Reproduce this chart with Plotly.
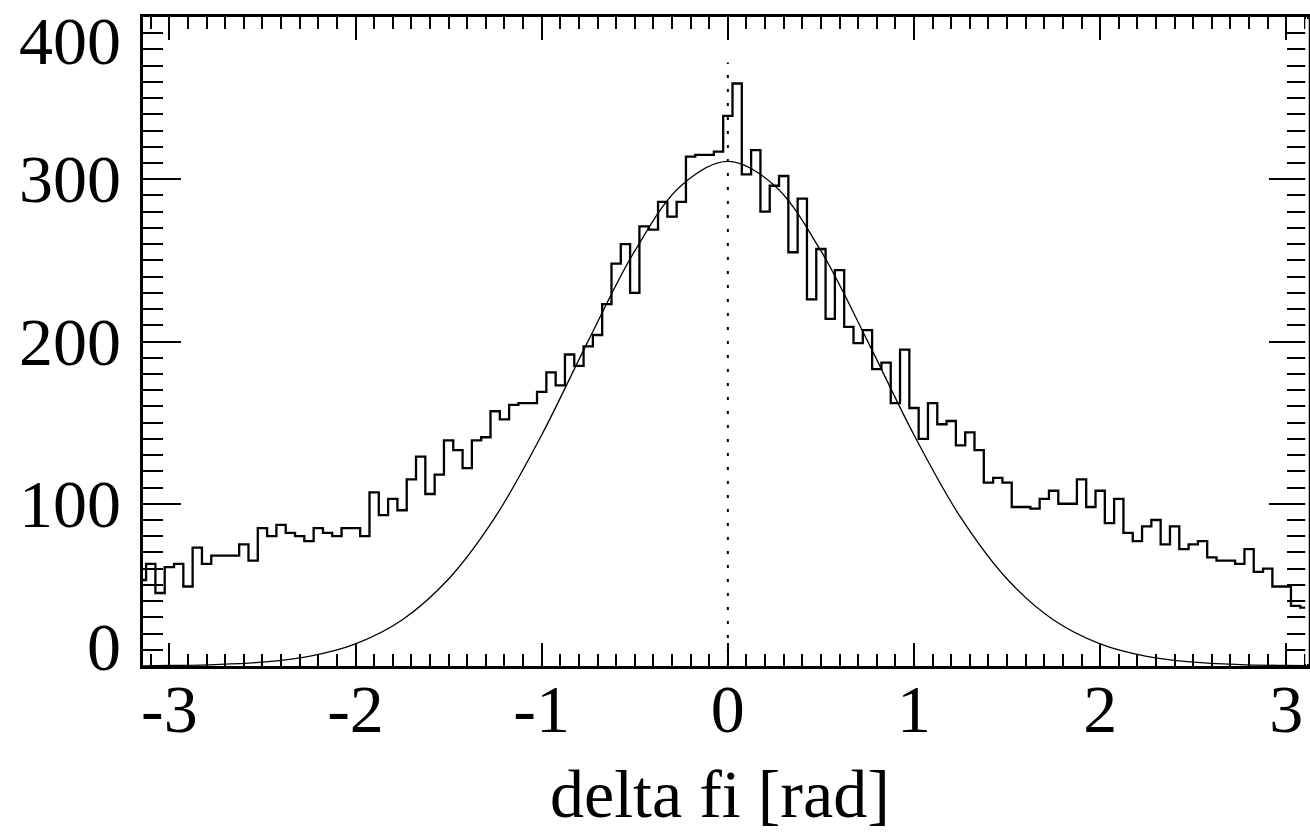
import plotly.graph_objects as go

# Histogram: bin centres every 0.05 rad from -3.15 to 3.15 (127 bins)
bin_start = -3.15
bin_width = 0.05
counts = [
    53, 63, 45, 61, 63, 49, 73, 63, 68, 68,
    68, 75, 65, 85, 80, 87, 82, 80, 77, 85,
    82, 80, 85, 85, 80, 107, 93, 103, 96, 115,
    129, 106, 118, 139, 133, 122, 139, 141, 157, 152,
    161, 162, 162, 169, 181, 173, 192, 185, 197, 204,
    223, 248, 260, 230, 271, 269, 286, 277, 286, 314,
    315, 315, 317, 339, 359, 303, 318, 280, 296, 302,
    255, 288, 226, 257, 214, 244, 209, 199, 207, 183,
    187, 162, 195, 159, 140, 162, 149, 151, 136, 144,
    133, 113, 116, 113, 98, 98, 97, 103, 108, 100,
    100, 115, 98, 108, 88, 103, 82, 77, 86, 90,
    75, 86, 72, 75, 77, 67, 65, 65, 63, 72,
    58, 60, 49, 49, 37, 36, 38,
]
bin_centers = [round(bin_start + i * bin_width, 4) for i in range(len(counts))]

# Fitted curve, values
fit_x = [-3.15, -3.0, -2.75, -2.5, -2.25, -2.0, -1.75, -1.5, -1.25, -1.0, -0.75, -0.5, -0.25, 0.0,
         0.25, 0.5, 0.75, 1.0, 1.25, 1.5, 1.75, 2.0, 2.25, 2.5, 2.75, 3.0, 3.15]
fit_y = [0.1, 0.3, 0.9, 2.4, 6.0, 13.7, 28.4, 53.6, 91.7, 142.4, 200.4, 255.8, 296.2, 311.0,
         296.2, 255.8, 200.4, 142.4, 91.7, 53.6, 28.4, 13.7, 6.0, 2.4, 0.9, 0.3, 0.1]

x_ticks = [-3, -2, -1, 0, 1, 2, 3]
x_tick_text = ["-3", "-2", "-1", "0", "1", "2", "3"]
y_ticks = [0, 100, 200, 300, 400]
y_tick_text = ["0", "100", "200", "300", "400"]
x_title = "delta fi [rad]"
marker_line_top = 372

FONT = "Liberation Serif, Times New Roman, serif"

fig = go.Figure()
fig.add_trace(go.Scatter(x=bin_centers, y=counts, mode="lines", line_shape="hvh",
                         line=dict(color="black", width=2.3), showlegend=False, hoverinfo="skip"))
fig.add_trace(go.Scatter(x=fit_x, y=fit_y, mode="lines", line_shape="spline",
                         line=dict(color="black", width=1.3), showlegend=False, hoverinfo="skip"))

fig.add_shape(type="line", x0=0, x1=0, y0=0, y1=marker_line_top, xref="x", yref="y",
              line=dict(color="black", width=2, dash="3px,11px"))

# the right-hand frame line lies just outside the visible picture in the original:
# cover plotly's mirrored y-axis line so only the mirrored ticks remain
fig.add_shape(type="line", xref="paper", yref="paper", x0=1, x1=1, y0=0.003, y1=0.997,
              line=dict(color="white", width=3.5), layer="above")

# y tick labels as text annotations (IDL-style placement of the end labels)
y_shifts = {0: 19, 400: -24}
for v, t in zip(y_ticks, y_tick_text):
    fig.add_annotation(x=0, xref="paper", y=v, yref="y", text=t, showarrow=False,
                       xanchor="right", yanchor="middle", xshift=-20, yshift=y_shifts.get(v, 0),
                       font=dict(family=FONT, size=68, color="black"))

fig.add_annotation(x=0.5, xref="paper", y=0, yref="paper", text=x_title, showarrow=False,
                   xanchor="center", yanchor="middle", yshift=-128, xshift=-5,
                   font=dict(family=FONT, size=68, color="black"))

fig.update_layout(
    width=1310, height=832,
    margin=dict(l=143, r=0, t=17, b=166),
    paper_bgcolor="white", plot_bgcolor="white",
    xaxis=dict(range=[-3.1416, 3.1111], showgrid=False, zeroline=False,
               showline=True, linecolor="black", linewidth=2.5, mirror="allticks",
               ticks="inside", ticklen=23, tickwidth=2, tickcolor="black",
               tickvals=x_ticks, ticktext=x_tick_text, ticklabelstandoff=-18,
               tickfont=dict(family=FONT, size=68, color="black"),
               minor=dict(ticks="inside", ticklen=12, tickwidth=2, tickcolor="black",
                          dtick=0.1, tick0=0, showgrid=False)),
    yaxis=dict(range=[0, 400], showgrid=False, zeroline=False,
               showline=True, linecolor="black", linewidth=2.5, mirror="ticks",
               ticks="inside", ticklen=38, tickwidth=2, tickcolor="black",
               tickvals=y_ticks, showticklabels=False,
               minor=dict(ticks="inside", ticklen=20, tickwidth=2, tickcolor="black",
                          dtick=10, tick0=0, showgrid=False)),
)

fig.write_html("out.html", config={"displayModeBar": False},
               post_script="document.body.style.margin='0px';")
